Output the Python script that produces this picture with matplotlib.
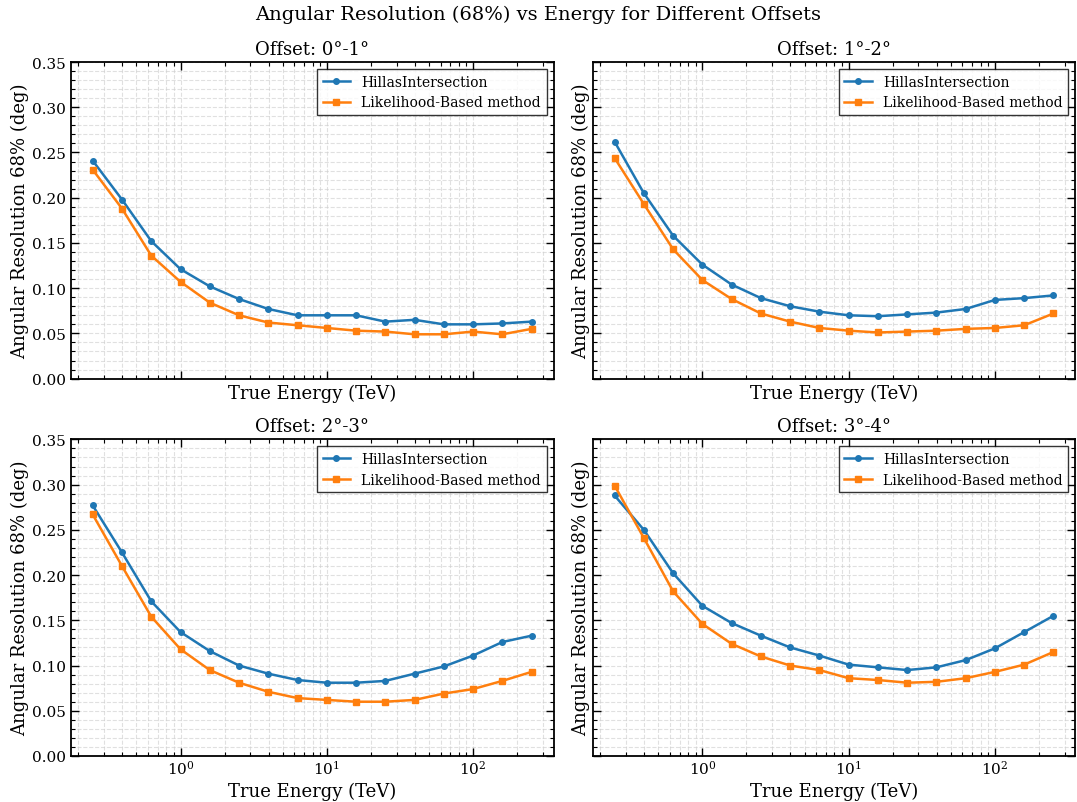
import matplotlib
matplotlib.use("Agg")
from matplotlib import pyplot as plt
import numpy as np

plt.rcParams['font.family'] = 'serif'
plt.rcParams['font.serif'] = ['DejaVu Serif']
plt.rcParams['mathtext.fontset'] = 'dejavuserif'

# bin centres in TeV (log spaced, 0.2 dex)
energy = [0.251, 0.398, 0.631, 1.0, 1.585, 2.512, 3.981, 6.310,
          10.0, 15.85, 25.12, 39.81, 63.10, 100.0, 158.5, 251.2]

offsets = ["0°-1°", "1°-2°", "2°-3°", "3°-4°"]

hillas_0_1 = [0.241, 0.198, 0.152, 0.121, 0.102, 0.088, 0.077, 0.070,
              0.070, 0.070, 0.063, 0.065, 0.060, 0.060, 0.061, 0.063]
like_0_1 = [0.231, 0.188, 0.136, 0.107, 0.084, 0.070, 0.062, 0.059,
            0.056, 0.053, 0.052, 0.049, 0.049, 0.052, 0.049, 0.055]

hillas_1_2 = [0.262, 0.205, 0.158, 0.126, 0.104, 0.089, 0.080, 0.074,
              0.070, 0.069, 0.071, 0.073, 0.077, 0.087, 0.089, 0.092]
like_1_2 = [0.244, 0.193, 0.143, 0.109, 0.088, 0.072, 0.063, 0.056,
            0.053, 0.051, 0.052, 0.053, 0.055, 0.056, 0.059, 0.072]

hillas_2_3 = [0.277, 0.225, 0.171, 0.137, 0.116, 0.100, 0.091, 0.084,
              0.081, 0.081, 0.083, 0.091, 0.099, 0.111, 0.126, 0.133]
like_2_3 = [0.267, 0.210, 0.154, 0.118, 0.095, 0.081, 0.071, 0.064,
            0.062, 0.060, 0.060, 0.062, 0.069, 0.074, 0.083, 0.093]

hillas_3_4 = [0.288, 0.250, 0.202, 0.166, 0.147, 0.133, 0.120, 0.111,
              0.101, 0.098, 0.095, 0.098, 0.106, 0.119, 0.137, 0.155]
like_3_4 = [0.299, 0.241, 0.182, 0.146, 0.124, 0.110, 0.100, 0.095,
            0.086, 0.084, 0.081, 0.082, 0.086, 0.093, 0.101, 0.115]

hillas = [hillas_0_1, hillas_1_2, hillas_2_3, hillas_3_4]
like = [like_0_1, like_1_2, like_2_3, like_3_4]

fig, axes = plt.subplots(2, 2, figsize=(10.77, 8.03), dpi=100, sharex=True, sharey=True)
fig.subplots_adjust(left=0.0657, right=0.9985, top=0.9215, bottom=0.0573,
                    wspace=0.081, hspace=0.192)

for i, ax in enumerate(axes.flat):
    ax.plot(energy, hillas[i], marker='o', markersize=4, lw=1.8, label='HillasIntersection')
    ax.plot(energy, like[i], marker='s', markersize=4, lw=1.8, label='Likelihood-Based method')
    ax.set_xscale('log')
    ax.set_ylim(0, 0.35)
    ax.set_yticks(np.arange(0, 0.36, 0.05))
    ax.yaxis.set_minor_locator(matplotlib.ticker.MultipleLocator(0.01))
    ax.set_title("Offset: " + offsets[i], fontsize=13)
    ax.set_xlabel("True Energy (TeV)", fontsize=13)
    ax.set_ylabel("Angular Resolution 68% (deg)", fontsize=13, labelpad=2)
    ax.tick_params(which='both', direction='in', top=True, right=True, labelsize=11)
    ax.tick_params(axis='x', which='both', pad=2)
    ax.tick_params(which='major', length=6, width=1)
    ax.tick_params(which='minor', length=3, width=0.8)
    ax.grid(True, which='both', ls='--', color='#cccccc', alpha=0.6, lw=0.8)
    for s in ax.spines.values():
        s.set_linewidth(1.3)
    leg = ax.legend(loc='upper right', fontsize=10, fancybox=False, edgecolor='black')
    leg.get_frame().set_linewidth(1.0)
    ax.tick_params(labelbottom=(i >= 2), labelleft=(i % 2 == 0))

fig.suptitle("Angular Resolution (68%) vs Energy for Different Offsets", fontsize=14, y=0.993)
fig.savefig("out.png", dpi=100)
